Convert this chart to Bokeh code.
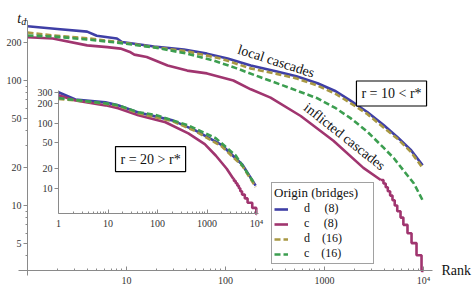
import math
from bokeh.plotting import figure
from bokeh.models import (Range1d, LogAxis, LogScale, FixedTicker, BasicTickFormatter,
                          Label, Legend, LegendItem)
from bokeh.embed import file_html
from bokeh.resources import INLINE

FONT = "Liberation Serif"

# ---------------- data: main panel (r = 10 < r*) ----------------
main_d8_rank = [1, 2, 4, 5, 8, 9, 19, 38, 65, 105, 180, 330, 520, 850, 1300, 1830, 2700, 3950, 5500, 7400, 9800]
main_d8_td = [272, 258, 246, 228, 217, 203, 187, 177, 164, 150, 132, 118, 108, 95, 82, 69, 56, 44, 35, 28, 21]

main_c8_rank = [1, 1.8, 4, 6.4, 8.7, 11, 12, 16, 26, 41, 65, 120, 180, 285, 575, 1230, 2470, 3700]
main_c8_td = [222, 217, 191, 185, 180, 168, 161, 154, 132, 120, 114, 100, 85, 73, 52, 33, 20, 16]
main_c8_tail_rank = [3700, 3940, 4150, 4360, 4600, 4860, 5120, 5430, 5860, 6260, 6890, 7570, 8500, 9550, 10000]
main_c8_tail_td = [16, 15, 14, 13, 12, 11, 10, 9, 8, 7, 6, 5, 4, 3, 3]

main_d16_rank = [1, 1.8, 4, 8.7, 19, 41, 89, 178, 330, 520, 850, 1300, 1830, 2700, 3950, 5500, 7400, 9800]
main_d16_td = [242, 229, 218, 202, 185, 171, 150, 125, 113, 104, 91, 78, 66, 54, 42, 34, 27, 20]

main_c16_rank = [1, 1.8, 4, 8, 19, 41, 75, 130, 226, 385, 850, 1300, 1830, 2700, 3950, 5000, 6300, 8000, 9800]
main_c16_td = [229, 225, 213, 201, 184, 164, 145, 125, 106, 91, 72, 60, 50, 39, 29, 24, 19, 15, 11]

# ---------------- data: inset (r = 20 > r*) ----------------
ins_d8_rank = [1, 2.2, 8.9, 16, 41, 200, 580, 2000, 5200, 9600]
ins_d8_td = [300, 233, 210, 189, 147, 111, 78, 46, 23, 11]

ins_c8_rank = [1, 2.2, 8.9, 16, 41, 145, 420, 900, 1500, 2500, 3400]
ins_c8_td = [270, 225, 189, 171, 133, 104, 70, 48, 32, 20, 14]
ins_c8_tail_rank = [3400, 3500, 3800, 4100, 4400, 4700, 5100, 5800, 6600, 8200, 9900, 10000]
ins_c8_tail_td = [14, 13, 12, 11, 10, 9, 8, 7, 6, 5, 4, 4]

ins_d16_rank = [1, 2.2, 8.9, 16, 41, 200, 580, 2000, 5200, 9600]
ins_d16_td = [238, 225, 200, 186, 143, 108, 76, 44, 22, 10.5]

ins_c16_rank = [1, 2.2, 8.9, 16, 41, 91, 420, 1500, 3800, 9000]
ins_c16_td = [245, 228, 203, 190, 148, 135, 93, 59, 32, 12]

# ---------------- ticks / labels ----------------
main_x_ticks = [10, 100, 1000, 10000]
main_y_ticks = [5, 10, 20, 50, 100, 200]
main_y_minor = [3, 4, 6, 7, 8, 9, 30, 40, 60, 70, 80, 90, 300]
ins_x_ticks = [1, 10, 100, 1000, 10000]
ins_y_ticks = [10, 20, 50, 100, 200, 300]
decade_minor = [m * 10 ** k for k in range(0, 4) for m in range(2, 10)]

legend_title = "Origin (bridges)\u2002\u2002"
legend_labels = ["d\u2002\u2002\u2009(8)", "c\u2002\u2002\u2009(8)", "d\u2002\u2002(16)", "c\u2002\u2002(16)"]

BLUE = "#3f3fa6"
MAGENTA = "#a0356f"
OLIVE = "#a89843"
GREEN = "#3c9e50"

# ---------------- geometry (data ranges) ----------------
X_RANGE = (0.559, 31250)       # main frame covers (almost) the whole canvas
Y_RANGE = (2.089, 405.5)
X_AXIS_AT = 3.02                # where the rank axis crosses
Y_AXIS_AT = 1                   # where the t_d axis crosses
X_AXIS_BOUNDS = (0.81, 12330)
Y_AXIS_BOUNDS = (2.75, 302)

# inset placement, expressed in main-panel coordinates
INS_X = (1, 10 ** 4.04)
INS_Y = (4.1, 320)
INS_AT_X = (2.056, 215.4)
INS_AT_Y = (8.63, 83.2)

p = figure(width=474, height=296, x_axis_type="log", y_axis_type="log",
           x_range=Range1d(*X_RANGE), y_range=Range1d(*Y_RANGE),
           output_backend="svg", toolbar_location=None,
           min_border_left=2, min_border_right=2, min_border_top=4, min_border_bottom=6)
p.grid.visible = False
p.outline_line_color = None
p.background_fill_color = "white"
p.border_fill_color = "white"

AX_COL = "#8a8a8a"
LAB_COL = "#333333"


def style_axis(ax, tick_in, tick_out):
    ax.axis_line_color = AX_COL
    ax.major_tick_line_color = AX_COL
    ax.minor_tick_line_color = AX_COL
    ax.major_label_text_font = FONT
    ax.major_label_text_font_size = "10px"
    ax.major_label_text_color = LAB_COL
    ax.major_tick_in = tick_in
    ax.major_tick_out = tick_out
    ax.minor_tick_in = tick_in // 2
    ax.minor_tick_out = tick_out // 2


xa = p.xaxis[0]
xa.ticker = FixedTicker(ticks=main_x_ticks, minor_ticks=decade_minor)
xa.formatter = BasicTickFormatter(use_scientific=False)
xa.major_label_overrides = {10000: "10\u2074"}
xa.fixed_location = X_AXIS_AT
xa.bounds = X_AXIS_BOUNDS
style_axis(xa, 4, 0)
xa.major_label_standoff = 5

ya = p.yaxis[0]
ya.ticker = FixedTicker(ticks=main_y_ticks, minor_ticks=main_y_minor)
ya.formatter = BasicTickFormatter(use_scientific=False)
ya.fixed_location = Y_AXIS_AT
ya.bounds = Y_AXIS_BOUNDS
style_axis(ya, 0, 4)
ya.major_label_standoff = 2


def inset_range(main_lo, main_hi, at, ins):
    l = math.log10
    b = (l(ins[1]) - l(ins[0])) / (l(at[1]) - l(at[0]))
    f = lambda m: 10 ** (l(ins[0]) + (l(m) - l(at[0])) * b)
    return Range1d(f(main_lo), f(main_hi))


p.extra_x_ranges = {"ix": inset_range(X_RANGE[0], X_RANGE[1], INS_AT_X, INS_X)}
p.extra_y_ranges = {"iy": inset_range(Y_RANGE[0], Y_RANGE[1], INS_AT_Y, INS_Y)}
p.extra_x_scales = {"ix": LogScale()}
p.extra_y_scales = {"iy": LogScale()}

ixa = LogAxis(x_range_name="ix", y_range_name="iy", fixed_location=INS_Y[0], bounds=INS_X,
              ticker=FixedTicker(ticks=ins_x_ticks, minor_ticks=decade_minor),
              formatter=BasicTickFormatter(use_scientific=False),
              major_label_overrides={10000: "10\u2074"})
style_axis(ixa, 4, 0)
ixa.major_label_standoff = 5
p.add_layout(ixa, "below")

iya = LogAxis(x_range_name="ix", y_range_name="iy", fixed_location=INS_X[0], bounds=INS_Y,
              ticker=FixedTicker(ticks=ins_y_ticks, minor_ticks=[]),
              formatter=BasicTickFormatter(use_scientific=False))
style_axis(iya, 0, 4)
iya.major_label_standoff = 2
p.add_layout(iya, "left")

# ---------------- lines ----------------
LW = 2.6
DASH = "6 3"
kw = dict(line_width=LW, line_join="round")

r_b = p.line(main_d8_rank, main_d8_td, line_color=BLUE, **kw)
r_m = p.line(main_c8_rank, main_c8_td, line_color=MAGENTA, **kw)
p.step(main_c8_tail_rank, main_c8_tail_td, mode="after", line_color=MAGENTA, line_width=LW)
r_o = p.line(main_d16_rank, main_d16_td, line_color=OLIVE, line_dash=DASH, **kw)
r_g = p.line(main_c16_rank, main_c16_td, line_color=GREEN, line_dash=DASH, **kw)

ik = dict(x_range_name="ix", y_range_name="iy", line_width=LW, line_join="round")
p.line(ins_d8_rank, ins_d8_td, line_color=BLUE, **ik)
p.line(ins_c8_rank, ins_c8_td, line_color=MAGENTA, **ik)
p.step(ins_c8_tail_rank, ins_c8_tail_td, mode="after", line_color=MAGENTA,
       x_range_name="ix", y_range_name="iy", line_width=LW)
p.line(ins_d16_rank, ins_d16_td, line_color=OLIVE, line_dash=DASH, **ik)
p.line(ins_c16_rank, ins_c16_td, line_color=GREEN, line_dash=DASH, **ik)


# ---------------- text ----------------
def lab(x, y, text, size="14px", angle=0.0, align="center", baseline="middle", style="normal", **extra):
    l = Label(x=x, y=y, text=text, angle=angle, text_align=align, text_baseline=baseline,
              text_font=FONT, text_font_size=size, text_font_style=style, text_color="#111111", **extra)
    p.add_layout(l)
    return l


lab(325, 142.5, "local cascades", angle=-0.31)
lab(1592, 35.6, "inflicted cascades", angle=-0.67)
lab(4750, 78.7, "r = 10 < r*", background_fill_color="white", border_line_color="black",
    border_line_width=1.2, padding=5)
lab(17.5, 23.5, "r = 20 > r*", background_fill_color="white", border_line_color="black",
    border_line_width=1.2, padding=5)
lab(15200, X_AXIS_AT, "Rank", align="left")
lab(0.79, 312, "t", size="14px", align="left", baseline="alphabetic", style="italic")
lab(0.864, 298, "d", size="10px", align="left", baseline="alphabetic", style="italic")

# ---------------- legend ----------------
items = [LegendItem(label=t, renderers=[r]) for t, r in zip(legend_labels, [r_b, r_m, r_o, r_g])]
legend = Legend(items=items, location=(269, 26), title=legend_title,
                title_text_font=FONT, title_text_font_size="13px", title_text_font_style="normal",
                title_text_color="#111111", title_standoff=0, title_text_line_height=1.0,
                label_text_font=FONT, label_text_font_size="12px", label_text_color="#111111",
                label_text_line_height=1.0,
                label_height=12, glyph_height=12, glyph_width=14, label_standoff=16,
                spacing=0, padding=2, margin=0,
                border_line_color="#444444", border_line_width=1,
                background_fill_color="white", background_fill_alpha=1.0)
p.add_layout(legend)

open("out.html", "w").write(file_html(p, INLINE))
